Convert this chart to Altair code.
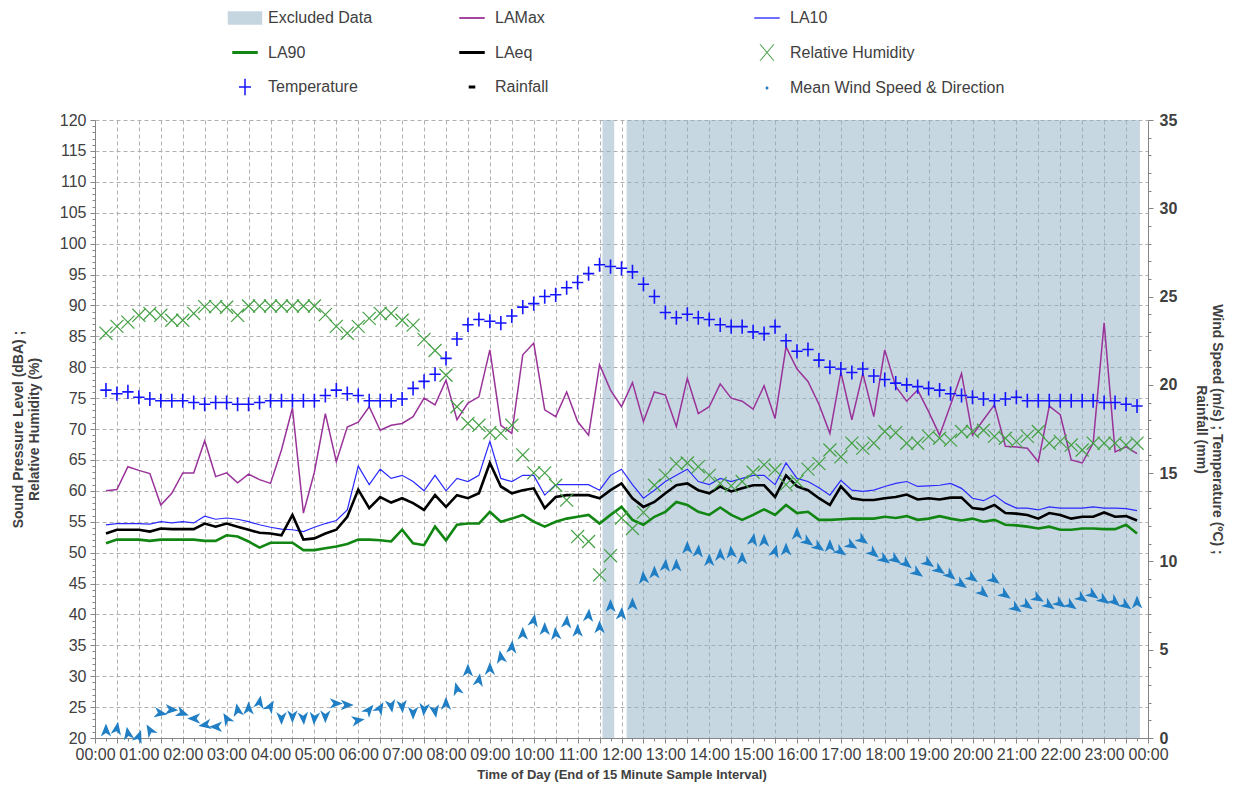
import altair as alt
import pandas as pd

# ---------------- data ----------------
minutes = [15 * (i + 1) for i in range(95)]

lamax = [60.0, 60.2, 63.9, 63.3, 62.8, 57.7, 59.6, 62.9, 62.9, 68.1, 62.3, 62.9, 61.3, 62.7, 61.8, 61.2,
         66.6, 73.4, 56.4, 63.0, 72.5, 64.7, 70.3, 71.1, 73.6, 69.8, 70.6, 70.9, 72.0, 75.0, 73.9, 77.9,
         71.5, 74.2, 75.2, 82.8, 70.6, 69.3, 82.0, 83.9, 73.1, 72.0, 76.0, 71.2, 69.0, 80.4, 76.3, 73.6,
         77.5, 71.2, 76.0, 75.5, 70.4, 78.2, 72.5, 73.6, 77.3, 75.0, 74.5, 73.2, 77.0, 71.7, 83.3, 79.7,
         77.7, 74.0, 69.3, 79.2, 71.5, 79.0, 72.0, 82.8, 76.9, 74.5, 76.3, 72.8, 69.0, 73.9, 79.0, 69.0,
         71.5, 73.9, 67.2, 67.1, 66.9, 64.7, 73.7, 72.3, 65.0, 64.5, 67.7, 87.2, 66.3, 67.1, 66.0]

la10 = [54.5, 54.7, 54.7, 54.7, 54.6, 55.0, 54.8, 55.0, 54.8, 55.9, 55.4, 55.6, 55.4, 55.0, 54.5, 54.1,
        53.8, 53.7, 53.4, 54.1, 54.7, 55.2, 56.9, 64.0, 61.0, 63.5, 62.0, 62.5, 61.5, 60.0, 62.5, 60.0,
        62.0, 61.5, 62.5, 68.0, 62.0, 61.5, 62.5, 62.5, 59.3, 61.0, 61.0, 61.0, 61.0, 60.1, 62.5, 63.5,
        61.0, 58.8, 60.1, 61.5, 62.5, 63.5, 61.5, 61.0, 62.0, 61.5, 62.0, 62.5, 62.5, 61.0, 64.5, 62.0,
        61.5, 60.5, 59.3, 61.7, 60.1, 59.9, 60.1, 60.7, 61.2, 61.5, 60.7, 60.8, 60.9, 61.2, 60.4, 58.8,
        58.4, 59.3, 58.0, 57.2, 57.2, 56.9, 57.4, 57.2, 57.2, 57.2, 57.4, 57.2, 57.2, 57.1, 56.8]

la90 = [51.5, 52.1, 52.1, 52.1, 51.9, 52.1, 52.1, 52.1, 52.1, 51.9, 51.9, 52.8, 52.6, 51.8, 50.8, 51.6,
        51.6, 51.6, 50.4, 50.4, 50.7, 51.0, 51.4, 52.1, 52.1, 52.0, 51.8, 53.7, 51.5, 51.2, 54.2, 52.0,
        54.5, 54.7, 54.7, 56.6, 55.0, 55.5, 56.1, 55.0, 54.2, 55.0, 55.5, 55.8, 56.1, 54.7, 56.1, 57.4,
        55.3, 54.5, 55.8, 56.6, 58.2, 57.7, 56.6, 56.1, 57.3, 56.1, 55.3, 56.1, 57.0, 56.1, 57.7, 56.4,
        56.6, 55.3, 55.3, 55.4, 55.5, 55.5, 55.5, 55.8, 55.6, 55.9, 55.3, 55.5, 55.9, 55.5, 55.2, 55.5,
        55.0, 55.3, 54.5, 54.4, 54.2, 53.9, 54.2, 53.7, 53.7, 53.9, 53.9, 53.8, 53.8, 54.5, 53.1]

laeq = [53.1, 53.7, 53.7, 53.7, 53.4, 53.9, 53.8, 53.8, 53.8, 54.7, 54.2, 54.7, 54.2, 53.7, 53.2, 53.1,
        52.8, 56.1, 52.1, 52.3, 53.1, 53.7, 55.8, 60.2, 57.2, 59.0, 58.1, 58.8, 58.0, 56.9, 59.3, 57.4,
        59.3, 58.8, 59.6, 64.5, 60.7, 59.6, 60.1, 60.4, 57.2, 59.0, 59.3, 59.3, 59.3, 58.8, 60.1, 61.2,
        58.8, 57.4, 58.2, 59.6, 60.9, 61.2, 60.1, 59.6, 60.7, 59.9, 60.4, 60.9, 60.9, 59.0, 62.5, 60.7,
        60.1, 58.8, 57.7, 60.7, 58.8, 58.5, 58.5, 58.8, 59.0, 59.4, 58.6, 58.8, 58.6, 58.9, 58.9, 57.2,
        57.0, 57.7, 56.4, 56.3, 56.1, 55.5, 56.4, 56.1, 55.5, 55.8, 55.8, 56.5, 55.8, 55.9, 55.2]

humidity = [85.5, 86.6, 87.3, 88.4, 88.7, 88.4, 87.6, 87.6, 88.7, 89.8, 89.8, 89.7, 88.4, 89.9, 89.9, 89.9,
            89.9, 89.9, 89.9, 89.9, 88.5, 86.6, 85.5, 86.6, 87.9, 88.7, 88.7, 87.6, 86.8, 84.5, 82.7, 78.7,
            73.6, 70.9, 70.6, 69.4, 69.3, 70.6, 65.8, 62.9, 62.9, 60.9, 58.5, 52.6, 51.8, 46.4, 49.5, 55.6,
            53.9, 56.5, 60.9, 62.5, 64.4, 64.5, 63.9, 62.5, 61.2, 60.8, 61.5, 63.0, 64.2, 63.4, 61.0, 61.5,
            63.5, 64.4, 66.6, 65.5, 67.7, 66.9, 67.7, 69.6, 69.4, 67.7, 67.7, 68.8, 68.5, 68.2, 69.6, 69.6,
            69.8, 68.8, 68.5, 68.0, 68.8, 69.6, 67.7, 68.0, 67.4, 66.6, 67.7, 67.7, 67.7, 67.4, 67.7]

temperature = [19.7, 19.5, 19.6, 19.3, 19.2, 19.1, 19.1, 19.1, 19.0, 18.9, 19.0, 19.0, 18.9, 18.9, 19.0, 19.1,
               19.1, 19.1, 19.1, 19.1, 19.4, 19.7, 19.5, 19.4, 19.1, 19.1, 19.1, 19.2, 19.8, 20.2, 20.6, 21.5,
               22.6, 23.4, 23.7, 23.6, 23.5, 23.9, 24.4, 24.6, 25.0, 25.1, 25.5, 25.8, 26.3, 26.8, 26.7, 26.6,
               26.4, 25.7, 25.0, 24.1, 23.8, 24.0, 23.8, 23.7, 23.4, 23.3, 23.3, 23.0, 22.9, 23.3, 22.5, 21.9,
               22.0, 21.4, 21.0, 20.9, 20.7, 20.9, 20.5, 20.3, 20.1, 20.0, 19.9, 19.8, 19.7, 19.5, 19.4, 19.3,
               19.2, 19.1, 19.2, 19.3, 19.1, 19.1, 19.1, 19.1, 19.1, 19.1, 19.1, 19.0, 19.0, 18.9, 18.8]

wind_speed = [0.45, 0.55, 0.28, 0.1, 0.45, 1.4, 1.6, 1.4, 1.1, 0.74, 0.64, 1.1, 1.6, 1.7, 2.05, 1.8,
              1.1, 1.2, 1.1, 1.1, 1.2, 1.96, 1.87, 1.0, 1.6, 1.7, 1.8, 1.77, 1.4, 1.6, 1.5, 1.96,
              2.8, 3.85, 3.3, 3.94, 4.6, 5.17, 5.93, 6.68, 6.2, 5.93, 6.6, 6.1, 6.96, 6.3, 7.5, 7.06,
              7.6, 9.1, 9.4, 9.8, 9.8, 10.8, 10.6, 10.1, 10.4, 10.55, 10.2, 11.25, 11.2, 10.6, 10.7, 11.6,
              11.1, 10.8, 10.9, 10.55, 10.9, 11.2, 10.45, 10.1, 10.1, 9.85, 9.35, 9.9, 9.5, 9.2, 8.7, 9.05,
              8.2, 8.95, 8.1, 7.34, 7.5, 7.9, 7.5, 7.6, 7.5, 7.9, 8.1, 7.8, 7.7, 7.5, 7.7]

wind_dir = [0, 10, 350, 20, 330, 100, 95, 110, 270, 260, 270, 330, 350, 0, 10, 30,
            180, 180, 175, 185, 180, 90, 90, 80, 40, 30, 170, 175, 180, 185, 170, 0,
            345, 0, 10, 0, 350, 5, 0, 10, 0, 355, 5, 0, 5, 0, 0, 5,
            0, 355, 0, 5, 0, 0, 5, 0, 0, 355, 0, 10, 0, 15, 0, 0,
            125, 125, 0, 125, 120, 125, 130, 125, 125, 130, 125, 125, 125, 130, 125, 125,
            130, 125, 125, 125, 125, 120, 125, 125, 125, 125, 125, 125, 130, 125, 0]

excluded_start = [694, 727]
excluded_end = [710, 1429]

legend_col1 = ["Excluded Data", "LA90", "Temperature"]
legend_col2 = ["LAMax", "LAeq", "Rainfall"]
legend_col3 = ["LA10", "Relative Humidity", "Mean Wind Speed & Direction"]

# ---------------- styling ----------------
FONT = "Liberation Sans"
TXT = "#404040"
C_EXCL = "#8fb0c5"
C_LAMAX = "#993399"
C_LA10 = "#2a2aff"
C_LA90 = "#128612"
C_LAEQ = "#000000"
C_RH = "#45a045"
C_TEMP = "#1414ff"
C_WIND = "#1f7ec4"

ARROW = "M0,-1L0.8,1L0,0.45L-0.8,1Z"
XSHAPE = "M-1,-1L1,1M-1,1L1,-1"
PLUS = "M-0.8,0H0.8M0,-1V1"

leg_shapes = {
    "Excluded Data": "M-1.15,-0.45H1.15V0.45H-1.15Z",
    "LAMax": "M-0.85,-0.06H0.85V0.06H-0.85Z",
    "LA10": "M-0.85,-0.045H0.85V0.045H-0.85Z",
    "LA90": "M-0.85,-0.1H0.85V0.1H-0.85Z",
    "LAeq": "M-0.85,-0.1H0.85V0.1H-0.85Z",
    "Relative Humidity": "M-0.5,-0.55L-0.42,-0.55L0.5,0.55L0.42,0.55Z M0.42,-0.55L0.5,-0.55L-0.42,0.55L-0.5,0.55Z",
    "Temperature": "M-0.05,-0.55H0.05V-0.05H0.4V0.05H0.05V0.55H-0.05V0.05H-0.4V-0.05H-0.05Z",
    "Rainfall": "M-0.22,-0.1H0.22V0.1H-0.22Z",
    "Mean Wind Speed & Direction": "M-0.1,0A0.1,0.1 0 1,0 0.1,0A0.1,0.1 0 1,0 -0.1,0Z",
}
leg_colors = {
    "Excluded Data": "#c5d6e1", "LAMax": C_LAMAX, "LA10": C_LA10, "LA90": C_LA90,
    "LAeq": C_LAEQ, "Relative Humidity": C_RH, "Temperature": C_TEMP,
    "Rainfall": "#000000", "Mean Wind Speed & Direction": C_WIND,
}

df = pd.DataFrame({
    "t": minutes, "LAMax": lamax, "LA10": la10, "LA90": la90, "LAeq": laeq,
    "RH": humidity, "Temp": temperature, "Wind": wind_speed, "Dir": wind_dir,
})
excl = pd.DataFrame({"start": excluded_start, "end": excluded_end, "lo": 20, "hi": 120})

X_TITLE = "Time of Day (End of 15 Minute Sample Interval)"

# ---------------- scales & axes ----------------
x_scale = alt.Scale(domain=[0, 1440], nice=False, zero=False)
x_axis = alt.Axis(
    values=list(range(0, 1441, 15)),
    labelExpr="datum.value % 60 == 0 ? (floor(datum.value / 60) % 24 < 10 ? '0' : '') + (floor(datum.value / 60) % 24) + ':00' : ''",
    labelOverlap=False, labelFlush=False, labelPadding=3,
    gridOpacity={"condition": {"test": "datum.value % 30 == 0", "value": 1}, "value": 0},
    tickSize={"condition": {"test": "datum.value % 30 == 0", "value": 5}, "value": 3},
    titlePadding=6, titleFontSize=13,
)
X = alt.X("t:Q", scale=x_scale, axis=x_axis, title=X_TITLE)

left_scale = alt.Scale(domain=[20, 120], nice=False, zero=False)
left_title = ["Sound Pressure Level (dBA) ;", "Relative Humidity (%)"]
left_axis = alt.Axis(
    values=list(range(20, 121)),
    labelExpr="datum.value % 5 == 0 ? '' + datum.value : ''",
    labelOverlap=False, labelPadding=4,
    gridOpacity={"condition": {"test": "datum.value % 5 == 0", "value": 1}, "value": 0},
    tickSize={"condition": {"test": "datum.value % 5 == 0", "value": 5}, "value": 3},
    titlePadding=18,
)

right_scale = alt.Scale(domain=[0, 35], nice=False, zero=False)
right_title = ["Wind Speed (m/s) ; Temperature (\u00baC) ;", "Rainfall (mm)"]
right_axis = alt.Axis(
    orient="right",
    values=list(range(0, 36)),
    labelExpr="datum.value % 5 == 0 ? '' + datum.value : ''",
    labelOverlap=False, labelPadding=6, labelFontWeight="bold",
    grid=False,
    tickSize={"condition": {"test": "datum.value % 5 == 0", "value": 5}, "value": 3},
    titleAngle=90, titlePadding=17,
)


def ly(field):
    return alt.Y(field, type="quantitative", scale=left_scale, axis=left_axis, title=left_title)


def ry(field):
    return alt.Y(field, type="quantitative", scale=right_scale, axis=right_axis, title=right_title)


base = alt.Chart(df)

shade = alt.Chart(excl).mark_rect(color=C_EXCL, opacity=0.5).encode(
    x=alt.X("start:Q", scale=x_scale, axis=x_axis, title=X_TITLE),
    x2="end:Q", y=ly("lo"), y2="hi:Q",
)
l_max = base.mark_line(color=C_LAMAX, strokeWidth=1.5).encode(x=X, y=ly("LAMax"))
l_10 = base.mark_line(color=C_LA10, strokeWidth=1.2).encode(x=X, y=ly("LA10"))
l_90 = base.mark_line(color=C_LA90, strokeWidth=2.6).encode(x=X, y=ly("LA90"))
l_eq = base.mark_line(color=C_LAEQ, strokeWidth=2.6).encode(x=X, y=ly("LAeq"))
p_rh = base.mark_point(shape=XSHAPE, filled=False, size=170, strokeWidth=1.2,
                       color=C_RH, opacity=1).encode(x=X, y=ly("RH"))


def legend_layer(names, lx):
    d = pd.DataFrame({"name": names, "t": [0] * len(names), "v": [-1000] * len(names)})
    leg = alt.Legend(orient="none", legendX=lx, legendY=-117, direction="vertical", title=None,
                     labelFont=FONT, labelFontSize=16, labelColor=TXT, symbolSize=900,
                     labelOffset=8, rowPadding=11.5, symbolStrokeWidth=0, labelLimit=400)
    return alt.Chart(d).mark_point(filled=True, clip=True, opacity=1, size=900).encode(
        x=X, y=ly("v"),
        color=alt.Color("name:N", scale=alt.Scale(domain=names, range=[leg_colors[n] for n in names]), legend=leg),
        shape=alt.Shape("name:N", scale=alt.Scale(domain=names, range=[leg_shapes[n] for n in names]), legend=leg),
    )


left = alt.layer(
    shade, l_max, l_10, l_90, l_eq, p_rh,
    legend_layer(legend_col1, 135), legend_layer(legend_col2, 362), legend_layer(legend_col3, 657),
).resolve_scale(color="independent", shape="independent")

p_temp = base.mark_point(shape=PLUS, filled=False, size=200, strokeWidth=1.6,
                         color=C_TEMP, opacity=1).encode(x=X, y=ry("Temp"))
p_wind = base.mark_point(shape=ARROW, filled=True, size=170, color=C_WIND, opacity=1).encode(
    x=X, y=ry("Wind"), angle=alt.Angle("Dir:Q", scale=None))

right = alt.layer(p_temp, p_wind)

chart = alt.layer(left, right).resolve_scale(
    y="independent", color="independent", shape="independent"
).properties(
    width=1053, height=618,
    padding={"left": 87, "top": 112, "right": 80, "bottom": 46},
    autosize=alt.AutoSizeParams(type="none"),
).configure_axis(
    labelFont=FONT, labelFontSize=16, labelColor=TXT,
    titleFont=FONT, titleFontSize=14, titleFontWeight="bold", titleColor=TXT,
    domainColor="#868686", tickColor="#868686",
    gridColor="#b0b0b0", gridDash=[4, 3], gridWidth=1,
).configure_view(stroke="transparent")

chart.save("out.html", embed_options={"renderer": "svg", "actions": False})
